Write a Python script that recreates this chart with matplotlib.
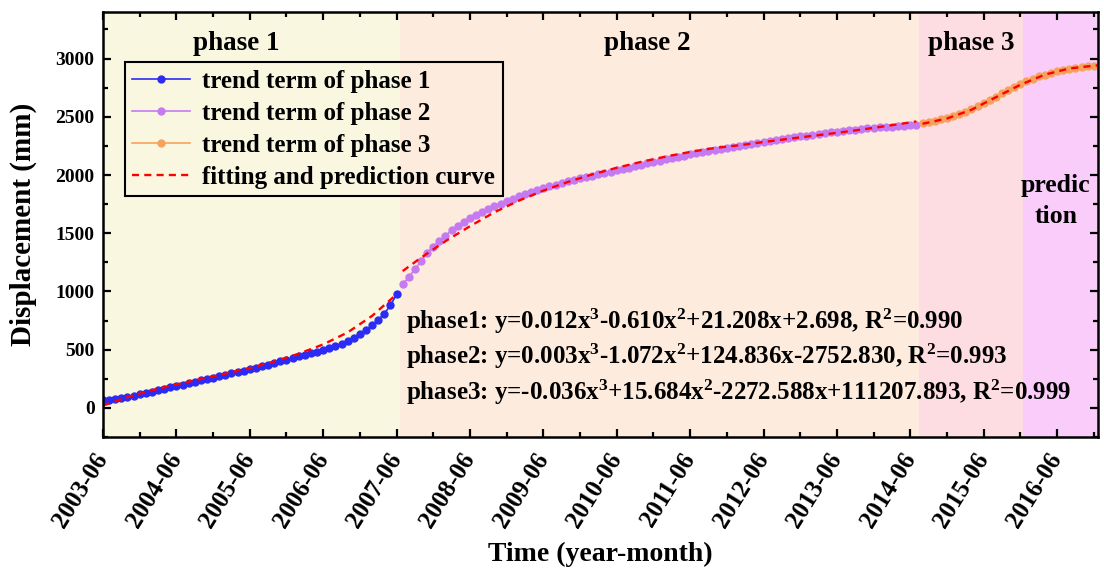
import numpy as np
import matplotlib.pyplot as plt

plt.rcParams['font.family'] = ['Liberation Serif', 'DejaVu Serif']
plt.rcParams['font.weight'] = 'bold'
plt.rcParams['mathtext.fontset'] = 'custom'
plt.rcParams['mathtext.rm'] = 'Liberation Serif:bold'
plt.rcParams['mathtext.it'] = 'Liberation Serif:bold'
plt.rcParams['mathtext.bf'] = 'Liberation Serif:bold'

# month index, 0 = 2003-06
tick_labels = ['2003-06', '2004-06', '2005-06', '2006-06', '2007-06', '2008-06', '2009-06',
               '2010-06', '2011-06', '2012-06', '2013-06', '2014-06', '2015-06', '2016-06']

# trend terms (monthly)
phase1_y = [66, 71, 77, 85, 94, 104, 115, 127, 139, 151, 163, 176, 189, 200, 212, 224, 236,
            248, 260, 272, 284, 296, 308, 320, 333, 346, 359, 372, 386, 400, 414, 428, 442,
            456, 470, 484, 498, 513, 530, 550, 574, 601, 632, 667, 708, 755, 810, 880, 975]
phase2_y = [1060, 1125, 1190, 1260, 1330, 1385, 1435, 1480, 1525, 1565, 1600, 1628, 1655,
            1682, 1708, 1732, 1755, 1776, 1797, 1816, 1834, 1852, 1870, 1887, 1903, 1918,
            1933, 1947, 1960, 1972, 1984, 1995, 2006, 2017, 2028, 2040, 2052, 2064, 2076,
            2088, 2100, 2112, 2124, 2135, 2146, 2157, 2167, 2177, 2187, 2197, 2207, 2216,
            2225, 2234, 2243, 2252, 2261, 2270, 2279, 2287, 2295, 2303, 2311, 2318, 2325,
            2332, 2339, 2346, 2353, 2360, 2367, 2373, 2379, 2385, 2390, 2395, 2400, 2404,
            2408, 2412, 2416, 2420, 2424, 2428, 2432]
phase3_y = [2445, 2455, 2466, 2478, 2491, 2506, 2523, 2543, 2565, 2590, 2617, 2645, 2674,
            2703, 2731, 2758, 2783, 2806, 2827, 2846, 2863, 2878, 2891, 2902, 2912, 2920,
            2927, 2932, 2936]

# fitting / prediction curves
fit1_x = [0, 4, 8, 12, 16, 20, 24, 28, 32, 36, 40, 44, 48]
fit1_y = [20, 92, 152, 202, 248, 294, 342, 398, 465, 545, 648, 790, 975]
fit2_x = [49, 52, 56, 60, 64, 68, 72, 76, 80, 84, 88, 92, 96, 100, 104, 108, 112, 116,
          120, 124, 128, 133]
fit2_y = [1175, 1290, 1432, 1560, 1680, 1780, 1866, 1940, 2005, 2062, 2113, 2158, 2198,
          2232, 2255, 2283, 2310, 2336, 2362, 2390, 2420, 2460]
fit3_x = [134, 138, 142, 146, 150, 154, 158, 162.6]
fit3_y = [2440, 2485, 2560, 2668, 2775, 2862, 2915, 2942]

x1 = np.arange(0, 49)
x2 = np.arange(49, 134)
x3 = np.arange(134, 163)

fig = plt.figure(figsize=(11.04, 5.71), dpi=100)
ax = fig.add_axes([0.0933, 0.2347, 0.9013, 0.7443])

ax.axvspan(0, 48.5, color='#FAF7E1', lw=0)
ax.axvspan(48.5, 133.5, color='#FDEBDE', lw=0)
ax.axvspan(133.5, 150.5, color='#FDDDE2', lw=0)
ax.axvspan(150.5, 163, color='#FACCFA', lw=0)

ax.plot(x1, phase1_y, color='#2B2BF5', marker='o', ms=5, lw=1.2, label='trend term of phase 1')
ax.plot(x2, phase2_y, color='#C67AF2', marker='o', ms=5, lw=1.2, label='trend term of phase 2')
ax.plot(x3, phase3_y, color='#F7A25C', marker='o', ms=5, lw=1.2, label='trend term of phase 3')
ax.plot(fit1_x, fit1_y, color='red', ls=(0, (3, 2.2)), lw=1.7, label='fitting and prediction curve')
ax.plot(fit2_x, fit2_y, color='red', ls=(0, (3, 2.2)), lw=1.7)
ax.plot(fit3_x, fit3_y, color='red', ls=(0, (3, 2.2)), lw=1.7)

ax.set_xlim(0, 162.7)
ax.set_ylim(-250, 3400)
ax.set_xticks(np.arange(0, 157, 12))
ax.set_xticks(np.arange(6, 163, 12), minor=True)
ax.set_xticklabels(tick_labels, rotation=58, ha='right', va='center',
                   rotation_mode='anchor', fontsize=18)
ax.set_yticks(np.arange(0, 3001, 500))
ax.set_yticks(np.arange(-250, 3400, 250), minor=True)
ax.tick_params(which='both', direction='in', top=True, right=True, width=1.6)
ax.tick_params(which='major', length=6)
ax.tick_params(axis='y', which='major', labelsize=14, pad=6)
ax.tick_params(axis='x', which='major', pad=13)
ax.tick_params(which='minor', length=3.5)
for s in ax.spines.values():
    s.set_linewidth(1.8)

ax.set_xlabel('Time (year-month)', fontsize=20, fontweight='bold', labelpad=7)
ax.set_ylabel('Displacement (mm)', fontsize=21, fontweight='bold', labelpad=13)

ax.text(21.8, 3130, 'phase 1', fontsize=19.5, ha='center', va='center')
ax.text(89, 3130, 'phase 2', fontsize=19.5, ha='center', va='center')
ax.text(142, 3130, 'phase 3', fontsize=19.5, ha='center', va='center')
ax.text(155.8, 1780, 'predic\ntion', fontsize=18.5, ha='center', va='center', linespacing=1.45)

eqs = ['phase1: y=0.012x$^3$-0.610x$^2$+21.208x+2.698, R$^2$=0.990',
       'phase2: y=0.003x$^3$-1.072x$^2$+124.836x-2752.830, R$^2$=0.993',
       'phase3: y=-0.036x$^3$+15.684x$^2$-2272.588x+111207.893, R$^2$=0.999']
eq_y = [742, 441, 132]
for s, yv in zip(eqs, eq_y):
    ax.text(49.6, yv, s, fontsize=18, ha='left', va='center')

leg = ax.legend(loc='upper left', bbox_to_anchor=(0.022, 0.882), borderaxespad=0,
                fontsize=18, frameon=True, fancybox=False, edgecolor='black',
                framealpha=1, facecolor='none', handlelength=2.3, labelspacing=0.36,
                borderpad=0.3, handletextpad=0.5)
leg.get_frame().set_linewidth(1.5)

fig.savefig('out.png', dpi=100)
